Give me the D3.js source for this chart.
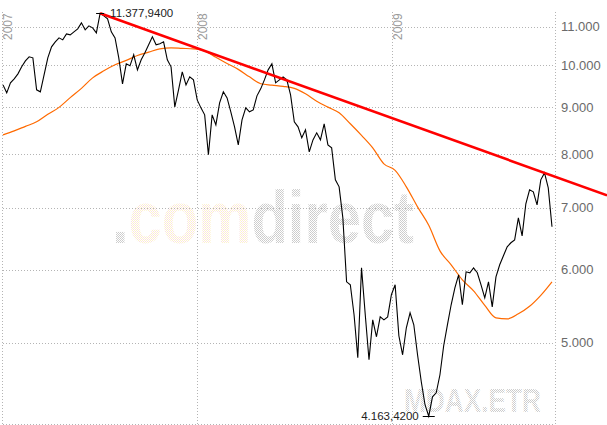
<!DOCTYPE html>
<html>
<head>
<meta charset="utf-8">
<script src="https://cdn.jsdelivr.net/npm/d3@7"></script>
<style>
  html, body { margin: 0; padding: 0; background: #fff; }
  svg { display: block; }
</style>
</head>
<body>
<svg id="chart" width="607" height="425"></svg>
<script>
// ---------------- DATA ----------------
const seriesName = "MDAX.ETR";
const watermarkParts = [".", "com", "direct"];
const startDate = "2007-01-01";          // first weekly close
const weekStep = 7;                       // days between closes
// weekly closes (MDAX)
const closes = [
  9518, 9330, 9566, 9661, 9783, 9956, 10106, 10208, 10182, 9400,
  9354, 9759, 10182, 10466, 10597, 10703, 10649, 10810, 10783, 10864,
  10946, 11111, 10918, 11028, 10973, 10837, 11377.94, 11307, 11222, 10864,
  10703, 10182, 9542, 10031, 9981, 10259, 9881, 10131, 10310, 10518,
  10730, 10518, 10544, 10597, 10131, 9956, 9010, 9400, 9832, 9518,
  9710, 9637, 9168, 8987, 8832, 7994, 8832, 8614, 9100, 9354,
  9214, 8898, 8572, 8195, 8722, 8987, 8898, 8942, 9261, 9424,
  9637, 9881, 10031, 9566, 9637, 9710, 9637, 9284, 8679, 8572,
  8339, 8507, 8053, 8297, 8444, 8297, 8636, 8195, 8134, 7509,
  7379, 6830, 5822, 5779, 5362, 4817, 6029, 5362, 4793, 5295,
  5076, 5335, 5295, 5335, 5637, 5779, 5089, 4853, 5191, 5389,
  5230, 4853, 4537, 4284, 4163.42, 4370, 4414, 4617, 4964, 5230,
  5498, 5736, 5925, 5498, 5969, 5955, 6029, 5955, 5779, 5594,
  5822, 5470, 5895, 6075, 6213, 6354, 6418, 6465, 6830, 6530,
  7074, 7324, 7288, 7056, 7509, 7641, 7361, 6679
];
// 200-day moving average, sampled every 3 weeks
const maStep = 21;
const movingAvg = [
  8402, 8486, 8582, 8679, 8843, 8998, 9219, 9436, 9686, 9857,
  10006, 10118, 10241, 10328, 10413, 10439, 10426, 10413, 10361, 10198,
  10039, 9893, 9710, 9545, 9511, 9483, 9435, 9307, 9139, 9003,
  8879, 8638, 8391, 8134, 7816, 7689, 7379, 7020, 6704, 6290,
  6075, 5851, 5693, 5490, 5321, 5308, 5375, 5477, 5629, 5822
];
const yTicks = [5000, 6000, 7000, 8000, 9000, 10000, 11000];
const yearTicks = ["2007", "2008", "2009"];
const highIndex = 26;   // high: 11.377,9400
const lowIndex = 114;   // low: 4.163,4200
const trendTouchIndex = 145; // second touch of the resistance line

// ---------------- SETUP ----------------
const W = 607, H = 425;
const plot = { left: 3, right: 555, top: 12, bottom: 424 };
const de = d3.formatLocale({ decimal: ",", thousands: ".", grouping: [3], currency: ["", ""] });
const fmtTick = de.format(",");
const fmtExtreme = de.format(",.4f");

const parseDay = d3.timeParse("%Y-%m-%d");
const t0 = parseDay(startDate);
const closeData = closes.map((v, i) => ({ date: d3.timeDay.offset(t0, i * weekStep), value: v }));
const maData = movingAvg.map((v, i) => ({ date: d3.timeDay.offset(t0, i * maStep), value: v }));

const x = d3.scaleTime()
  .domain([parseDay("2007-01-01"), parseDay("2009-01-01")])
  .range([3, 393]);
const y = d3.scaleLog()
  .domain([4083, 11763])
  .range([424, 0]);

const svg = d3.select("#chart");
const defs = svg.append("defs");

function halftone(id, c1, c2) {
  const p = defs.append("pattern").attr("id", id)
    .attr("width", 2).attr("height", 2).attr("patternUnits", "userSpaceOnUse");
  p.append("rect").attr("x", 0).attr("y", 0).attr("width", 1).attr("height", 1).attr("fill", c1);
  p.append("rect").attr("x", 1).attr("y", 1).attr("width", 1).attr("height", 1).attr("fill", c2);
}
halftone("htGray", "#cbcbcb", "#d0d0d0");
halftone("htYellow", "#fdf3cc", "#fae2e2");

const font = "'Liberation Sans', Arial, Helvetica, sans-serif";

// ---------------- WATERMARK ----------------
const wm = svg.append("text")
  .attr("x", 112).attr("y", 243)
  .attr("font-family", font).attr("font-size", 74).attr("font-weight", "bold")
  .attr("textLength", 302).attr("lengthAdjust", "spacingAndGlyphs");
wm.append("tspan").attr("fill", "url(#htGray)").text(watermarkParts[0]);
wm.append("tspan").attr("fill", "url(#htYellow)").text(watermarkParts[1]);
wm.append("tspan").attr("fill", "url(#htGray)").text(watermarkParts[2]);

svg.append("text")
  .attr("x", 404).attr("y", 412)
  .attr("font-family", font).attr("font-size", 33).attr("font-weight", "bold")
  .attr("textLength", 137).attr("lengthAdjust", "spacingAndGlyphs")
  .attr("fill", "url(#htGray)")
  .text(seriesName);

// ---------------- GRID ----------------
const grid = svg.append("g")
  .attr("stroke", "#b4b4b4").attr("stroke-width", 1).attr("stroke-dasharray", "1,2")
  .attr("shape-rendering", "crispEdges");

grid.selectAll("line.h").data(yTicks).join("line")
  .attr("class", "h")
  .attr("x1", plot.left).attr("x2", plot.right)
  .attr("y1", d => Math.round(y(d)) + 0.5).attr("y2", d => Math.round(y(d)) + 0.5);
grid.append("line")
  .attr("x1", plot.left).attr("x2", plot.right)
  .attr("y1", plot.bottom + 0.5).attr("y2", plot.bottom + 0.5);

const yearDates = yearTicks.map(s => parseDay(s + "-01-01"));
grid.selectAll("line.v").data(yearDates).join("line")
  .attr("class", "v")
  .attr("x1", d => Math.round(x(d)) - 0.5).attr("x2", d => Math.round(x(d)) - 0.5)
  .attr("y1", plot.top).attr("y2", plot.bottom);
grid.append("line")
  .attr("x1", plot.right + 0.5).attr("x2", plot.right + 0.5)
  .attr("y1", plot.top).attr("y2", plot.bottom);

// year labels (rotated)
svg.selectAll("text.year").data(yearTicks).join("text")
  .attr("class", "year")
  .attr("transform", (d, i) => `translate(${Math.round(x(yearDates[i])) + 9},40) rotate(-90)`)
  .attr("font-family", font).attr("font-size", 12).attr("fill", "#9a9a9a")
  .text(d => d);

// y-axis labels (right)
svg.selectAll("text.ylab").data(yTicks).join("text")
  .attr("class", "ylab")
  .attr("x", 561).attr("y", d => y(d) + 4.5)
  .attr("font-family", font).attr("font-size", 13).attr("fill", "#6a6a6a")
  .text(d => fmtTick(d));

// ---------------- SERIES ----------------
svg.append("path").datum(maData)
  .attr("d", d3.line().curve(d3.curveMonotoneX).x(d => x(d.date)).y(d => y(d.value)))
  .attr("fill", "none").attr("stroke", "#ff6a00").attr("stroke-width", 1.2);

svg.append("path").datum(closeData)
  .attr("d", d3.line().x(d => x(d.date)).y(d => y(d.value)))
  .attr("fill", "none").attr("stroke", "#000").attr("stroke-width", 1.1)
  .attr("stroke-linejoin", "miter");

// ---------------- TREND LINE ----------------
const p1 = closeData[highIndex], p2 = closeData[trendTouchIndex];
const endDate = x.invert(W);
const frac = (endDate - p1.date) / (p2.date - p1.date);
const endValue = p1.value * Math.pow(p2.value / p1.value, frac);
svg.append("line")
  .attr("x1", x(p1.date)).attr("y1", y(p1.value))
  .attr("x2", x(endDate)).attr("y2", y(endValue))
  .attr("stroke", "#ff0000").attr("stroke-width", 2.6);

// ---------------- EXTREME LABELS ----------------
const hi = closeData[highIndex], lo = closeData[lowIndex];
const ext = svg.append("g").attr("font-family", font).attr("font-size", 11.5).attr("fill", "#222");
ext.append("line")
  .attr("x1", x(hi.date) - 4).attr("x2", x(hi.date) + 4)
  .attr("y1", Math.round(y(hi.value)) + 0.5).attr("y2", Math.round(y(hi.value)) + 0.5)
  .attr("stroke", "#000").attr("stroke-width", 1);
ext.append("text")
  .attr("x", x(hi.date) + 10).attr("y", y(hi.value) + 4)
  .text(fmtExtreme(hi.value));
ext.append("line")
  .attr("x1", x(lo.date) - 6).attr("x2", x(lo.date) + 6)
  .attr("y1", Math.round(y(lo.value)) + 0.5).attr("y2", Math.round(y(lo.value)) + 0.5)
  .attr("stroke", "#000").attr("stroke-width", 1);
ext.append("text")
  .attr("x", x(lo.date) - 10).attr("y", y(lo.value) + 4)
  .attr("text-anchor", "end")
  .text(fmtExtreme(lo.value));
</script>
</body>
</html>
